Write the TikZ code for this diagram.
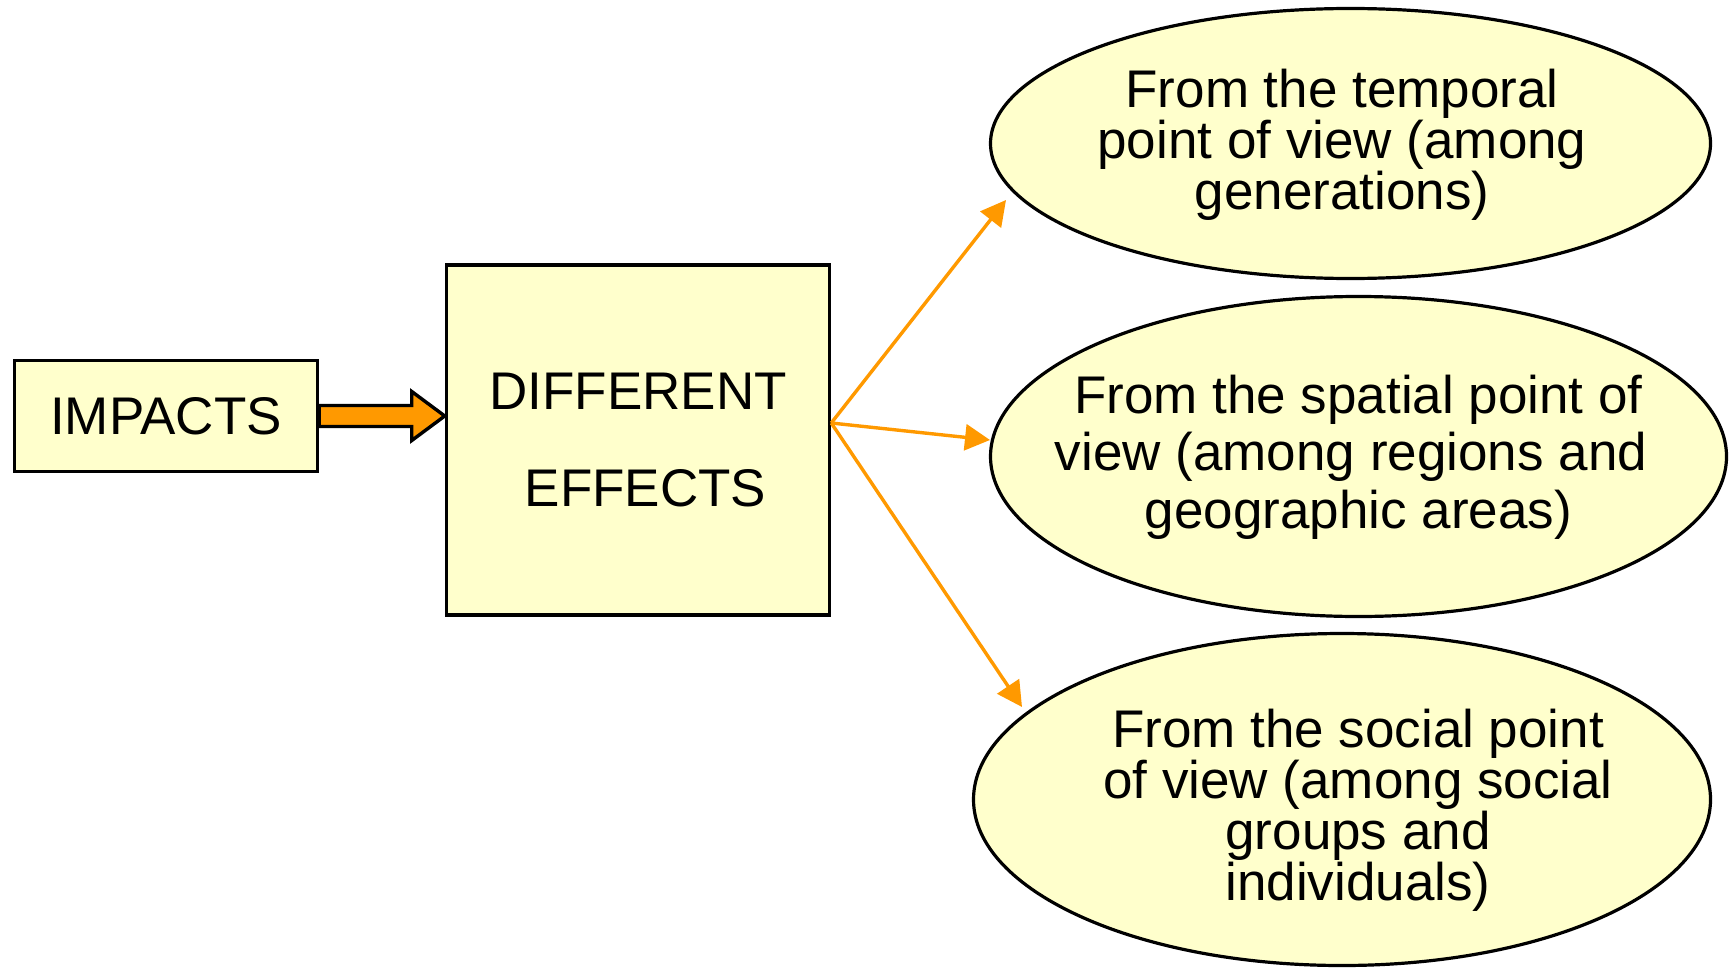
\documentclass[tikz,border=0pt]{standalone}
\usepackage{fontspec}
\setmainfont{Liberation Sans}
\usetikzlibrary{shapes.geometric,arrows.meta,calc}
\definecolor{paleyellow}{HTML}{FFFFCC}
\definecolor{floworange}{HTML}{FF9900}

\begin{document}
\begin{tikzpicture}[x=0.5pt,y=-0.5pt,
  boxnode/.style={draw=black,line width=1.75pt,fill=paleyellow,inner sep=0pt,
    font=\fontsize{26.5}{31}\selectfont},
  ovalnode/.style={ellipse,draw=black,line width=1.6pt,fill=paleyellow,inner sep=0pt},
  ovaltext/.style={align=center,inner sep=0pt},
  spoke/.style={draw=floworange,line width=1.7pt,-{Triangle[length=12.5pt,width=13pt]}},
  fatarrow/.style={draw=black,line width=1.7pt,fill=floworange,line join=miter}]
\useasboundingbox (0,0) rectangle (1732,968);

% left-hand boxes
\node[boxnode,minimum width=151.5pt,minimum height=55.5pt] (imp) at (166,416) {IMPACTS};
\node[boxnode,minimum width=191.5pt,minimum height=175pt,align=center,
      font=\fontsize{26.5}{48.5}\selectfont] (de) at (638,440)
      {DIFFERENT\\\hspace*{0.278em}EFFECTS};

% the three ovals
\node[ovalnode,minimum width=360pt,minimum height=135pt] (temporal) at (1350.5,143.5) {};
\node[ovalnode,minimum width=368pt,minimum height=160pt] (spatial) at (1358.5,456.5) {};
\node[ovalnode,minimum width=368.5pt,minimum height=166pt] (social) at (1342,799.5) {};

\node[ovaltext,font=\fontsize{26.5}{25.5}\selectfont] (temporaltxt) at (1342,144.5)
  {From the temporal\\point of view (among\\generations)};
\node[ovaltext,font=\fontsize{26.5}{28.75}\selectfont] (spatialtxt) at (1351,457)
  {\hspace*{0.278em}From the spatial point of\\view (among regions and\\\hspace*{0.278em}geographic areas)};
\node[ovaltext,font=\fontsize{26.5}{25.5}\selectfont] (socialtxt) at (1358,810.5)
  {From the social point\\of view (among social\\groups and\\individuals)};

% block arrow from IMPACTS to DIFFERENT EFFECTS
\coordinate (tipB) at (de.west |- imp.east);
\draw[fatarrow] ($(imp.east)+(0,-10.5)$) -- ($(tipB)+(-33,-10.5)$) -- ($(tipB)+(-33,-24.5)$)
  -- (tipB) -- ($(tipB)+(-33,24.5)$) -- ($(tipB)+(-33,10.5)$) -- ($(imp.east)+(0,10.5)$) -- cycle;

% fan of arrows towards the ovals
\coordinate (src) at (de.east |- 0,423);
\coordinate (hitT) at (1006,200);
\coordinate (hitP) at (990,440);
\coordinate (hitS) at (1022,707);
\draw[spoke] (src) -- (hitT);
\draw[spoke] (src) -- (hitP);
\draw[spoke] (src) -- (hitS);
\end{tikzpicture}
\end{document}
